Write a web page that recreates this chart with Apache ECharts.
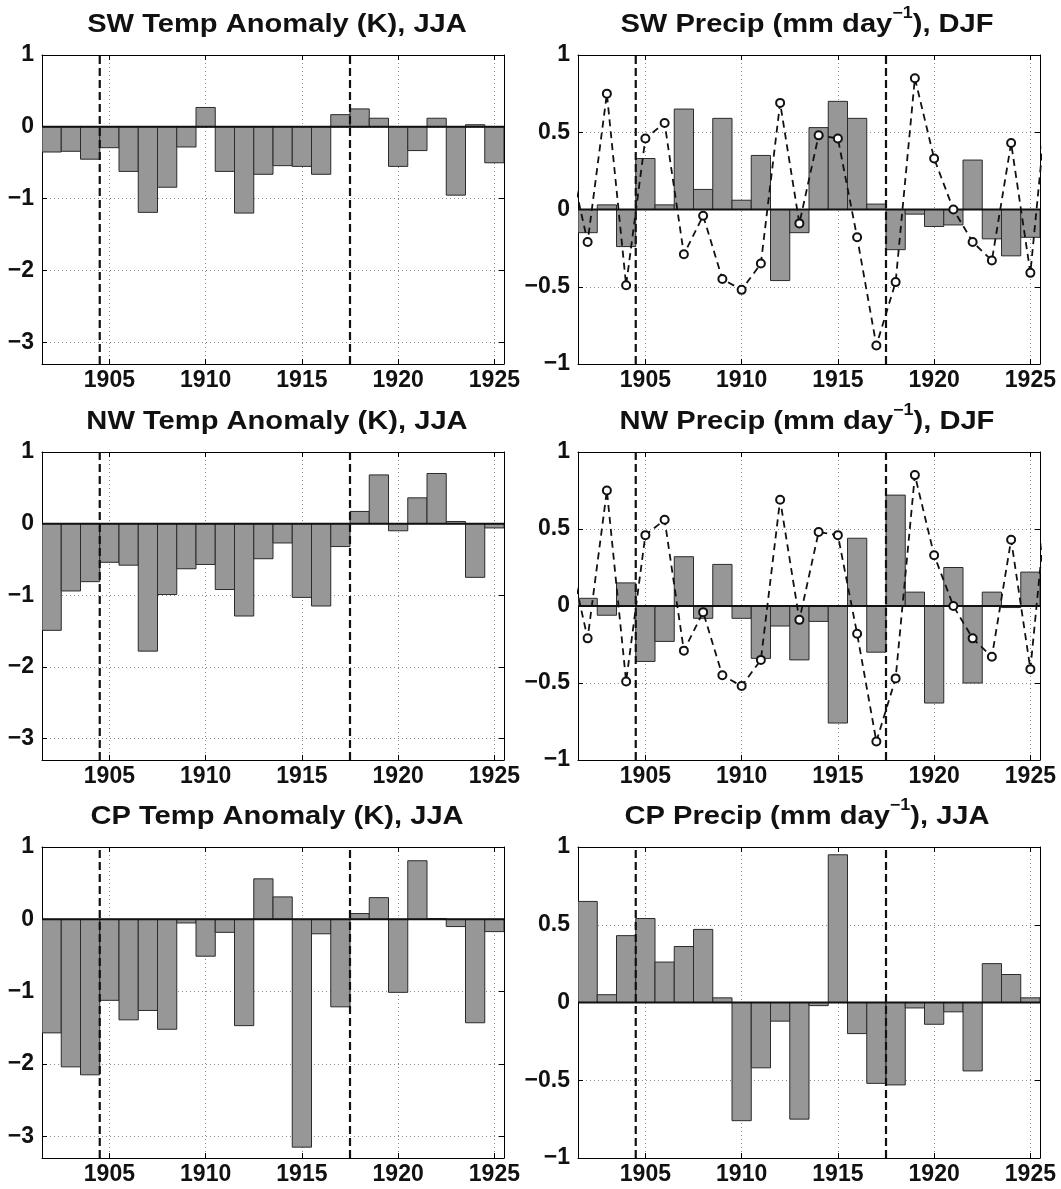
<!DOCTYPE html>
<html>
<head>
<meta charset="utf-8">
<script src="https://cdn.jsdelivr.net/npm/echarts@6/dist/echarts.min.js"></script>
<style>
html,body{margin:0;padding:0;background:#fff;}
#chart{width:1061px;height:1189px;}
</style>
</head>
<body>
<div id="chart"></div>
<script>
// ---- data ----
const years = [1902,1903,1904,1905,1906,1907,1908,1909,1910,1911,1912,1913,1914,1915,1916,1917,1918,1919,1920,1921,1922,1923,1924,1925];
const swTemp   = [-0.35,-0.34,-0.45,-0.29,-0.62,-1.19,-0.84,-0.28,0.27,-0.62,-1.20,-0.66,-0.54,-0.55,-0.66,0.17,0.25,0.12,-0.55,-0.33,0.12,-0.95,0.03,-0.50];
const swPrecip = [-0.15,0.03,-0.24,0.33,0.03,0.65,0.13,0.59,0.06,0.35,-0.46,-0.15,0.53,0.70,0.59,0.035,-0.26,-0.03,-0.11,-0.10,0.32,-0.19,-0.30,-0.18];
const nwTemp   = [-1.49,-0.94,-0.81,-0.54,-0.58,-1.78,-0.99,-0.63,-0.57,-0.92,-1.29,-0.49,-0.27,-1.03,-1.15,-0.32,0.17,0.68,-0.10,0.36,0.70,0.03,-0.75,-0.06];
const nwPrecip = [0.05,-0.06,0.15,-0.36,-0.23,0.32,-0.08,0.27,-0.08,-0.34,-0.13,-0.35,-0.10,-0.76,0.44,-0.30,0.72,0.09,-0.63,0.25,-0.50,0.09,-0.01,0.22];
const cpTemp   = [-1.57,-2.04,-2.15,-1.12,-1.39,-1.26,-1.52,-0.05,-0.51,-0.18,-1.47,0.56,0.31,-3.15,-0.20,-1.21,0.08,0.30,-1.01,0.81,0.01,-0.10,-1.43,-0.17];
const cpPrecip = [0.65,0.05,0.43,0.54,0.26,0.36,0.47,0.03,-0.76,-0.42,-0.12,-0.75,-0.02,0.95,-0.20,-0.52,-0.53,-0.035,-0.14,-0.06,-0.44,0.25,0.18,0.03];
// DJF index curve (dashed line with circles), incl. points just outside the axis range
const idxYears = [1901,1902,1903,1904,1905,1906,1907,1908,1909,1910,1911,1912,1913,1914,1915,1916,1917,1918,1919,1920,1921,1922,1923,1924,1925,1926];
const idxVals  = [0.35,-0.21,0.75,-0.49,0.46,0.56,-0.29,-0.04,-0.45,-0.52,-0.35,0.69,-0.09,0.48,0.46,-0.18,-0.88,-0.47,0.85,0.33,0.00,-0.21,-0.33,0.43,-0.41,0.87];
const breakYears = [1904.5, 1917.5];
const xTicks = [1905,1910,1915,1920,1925];
const xRange = [1901.5, 1925.5];
const tempRange = [-3.3, 1];
const tempTicks = [-3,-2,-1,0,1];
const precipRange = [-1, 1];
const precipTicks = [-1,-0.5,0,0.5,1];

const panels = [
  {title:['SW Temp Anomaly (K), JJA'], vals: swTemp, range: tempRange, ticks: tempTicks, idx:false},
  {title:['SW Precip (mm day','−1','), DJF'], vals: swPrecip, range: precipRange, ticks: precipTicks, idx:true},
  {title:['NW Temp Anomaly (K), JJA'], vals: nwTemp, range: tempRange, ticks: tempTicks, idx:false},
  {title:['NW Precip (mm day','−1','), DJF'], vals: nwPrecip, range: precipRange, ticks: precipTicks, idx:true},
  {title:['CP Temp Anomaly (K), JJA'], vals: cpTemp, range: tempRange, ticks: tempTicks, idx:false},
  {title:['CP Precip (mm day','−1','), JJA'], vals: cpPrecip, range: precipRange, ticks: precipTicks, idx:false}
];

// ---- layout ----
const colLeft = [42, 578];
const colWidth = 462;
const rowTop = [55, 452, 847];
const rowHeight = [309, 308, 311];
const FONT = '"Liberation Sans", Arial, Helvetica, sans-serif';

const grids = [], xAxes = [], yAxes = [], series = [], graphics = [];
const fmt = v => String(v).replace('-', '\u2212');

panels.forEach((p, i) => {
  const r = Math.floor(i / 2), c = i % 2;
  grids.push({left: colLeft[c], top: rowTop[r], width: colWidth, height: rowHeight[r], containLabel: false});
  const axLine = {show: true, onZero: false, lineStyle: {color: '#000', width: 1}};
  const tickX = {show: true, inside: true, length: 5, customValues: xTicks, lineStyle: {color: '#000', width: 1}};
  const tickY = {show: true, inside: true, length: 5, customValues: p.ticks, lineStyle: {color: '#000', width: 1}};
  const grid = {show: true, lineStyle: {color: '#8a8a8a', width: 1, type: [1, 3]}};
  xAxes.push({
    type: 'value', gridIndex: i, position: 'bottom', min: xRange[0], max: xRange[1],
    axisLine: axLine, axisTick: tickX, splitLine: grid,
    axisLabel: {show: true, customValues: xTicks, margin: 5, color: '#111', fontSize: 23, fontWeight: 'bold', fontFamily: FONT, formatter: v => String(v)}
  });
  xAxes.push({
    type: 'value', gridIndex: i, position: 'top', min: xRange[0], max: xRange[1],
    axisLine: axLine, axisTick: tickX, splitLine: {show: false}, axisLabel: {show: false}
  });
  yAxes.push({
    type: 'value', gridIndex: i, position: 'left', min: p.range[0], max: p.range[1],
    axisLine: axLine, axisTick: tickY, splitLine: grid,
    axisLabel: {show: true, customValues: p.ticks, margin: 8, color: '#111', fontSize: 23, fontWeight: 'bold', fontFamily: FONT, formatter: fmt}
  });
  yAxes.push({
    type: 'value', gridIndex: i, position: 'right', min: p.range[0], max: p.range[1],
    axisLine: axLine, axisTick: tickY, splitLine: {show: false}, axisLabel: {show: false}
  });
  const xi = 2 * i, yi = 2 * i;
  // bars
  series.push({
    type: 'custom', xAxisIndex: xi, yAxisIndex: yi, clip: true, z: 2,
    data: years.map((y, k) => [y, p.vals[k]]),
    renderItem: (params, api) => {
      const x = api.value(0), v = api.value(1);
      const a = api.coord([x - 0.5, v]);
      const b = api.coord([x + 0.5, 0]);
      return {
        type: 'rect',
        shape: {x: Math.min(a[0], b[0]), y: Math.min(a[1], b[1]), width: Math.abs(b[0] - a[0]), height: Math.abs(b[1] - a[1])},
        style: {fill: '#979797', stroke: '#2b2b2b', lineWidth: 1}
      };
    }
  });
  // zero baseline
  series.push({
    type: 'line', xAxisIndex: xi, yAxisIndex: yi, z: 3, symbol: 'none', silent: true,
    data: [[xRange[0], 0], [xRange[1], 0]],
    lineStyle: {color: '#111', width: 2}
  });
  // dashed vertical separators
  breakYears.forEach(by => {
    series.push({
      type: 'line', xAxisIndex: xi, yAxisIndex: yi, z: 4, symbol: 'none', silent: true,
      data: [[by, p.range[0]], [by, p.range[1]]],
      lineStyle: {color: '#111', width: 2.2, type: [8, 4]}
    });
  });
  if (p.idx) {
    series.push({
      type: 'line', xAxisIndex: xi, yAxisIndex: yi, z: 5, clip: true,
      data: idxYears.map((y, k) => [y, idxVals[k]]),
      symbol: 'circle', symbolSize: 8, showAllSymbol: true,
      itemStyle: {color: '#fff', borderColor: '#111', borderWidth: 2},
      lineStyle: {color: '#111', width: 1.8, type: [7, 5]}
    });
  }
  // title
  const cx = colLeft[c] + colWidth / 2 + (c === 0 ? 4 : -2);
  const baseY = rowTop[r] - 24;
  let text;
  if (p.title.length === 1) {
    text = '{t|' + p.title[0] + '}';
  } else {
    text = '{t|' + p.title[0] + '}{s|' + p.title[1] + '}{t|' + p.title[2] + '}';
  }
  const rich = {
    t: {fontSize: 26, fontWeight: 'bold', fontFamily: FONT, fill: '#111', lineHeight: 32, verticalAlign: 'bottom'},
    s: {fontSize: 16, fontWeight: 'bold', fontFamily: FONT, fill: '#111', lineHeight: 32, verticalAlign: 'top'}
  };
  graphics.push({
    type: 'text', x: cx, y: baseY + 7, scaleX: 1.12, z: 10,
    style: {text: text, rich: rich, align: 'center', verticalAlign: 'bottom', fill: '#111'}
  });
});

const chart = echarts.init(document.getElementById('chart'), null, {renderer: 'canvas'});
chart.setOption({
  animation: false,
  backgroundColor: '#fff',
  grid: grids,
  xAxis: xAxes,
  yAxis: yAxes,
  series: series,
  graphic: graphics
});
</script>
</body>
</html>
